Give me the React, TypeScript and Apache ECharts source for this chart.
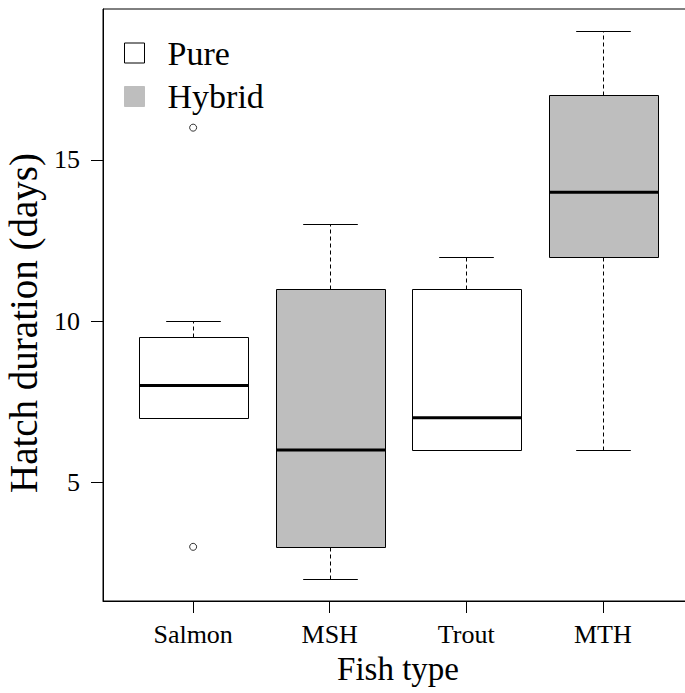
import React, { useEffect, useRef } from "react";
import * as echarts from "echarts";

// Fish types along the x axis, and which group each belongs to
const categories = ["Salmon", "MSH", "Trout", "MTH"];
const groups = ["Pure", "Hybrid", "Pure", "Hybrid"];

// Five-number summaries of hatch duration (days)
const lowerWhisker = [7, 2, 6, 6];
const q1 = [7, 3, 6, 12];
const median = [8, 6, 7, 14];
const q3 = [9.5, 11, 11, 17];
const upperWhisker = [10, 13, 12, 19];

// Points beyond the whiskers
const outlierCategory = ["Salmon", "Salmon"];
const outlierValues = [16, 3];

// Axis ticks
const yTicks = [5, 10, 15];

const FONT = "'Liberation Serif', 'Times New Roman', serif";
const GRAY = "#bebebe";

const groupStyle: Record<string, { fill: string; legendBorder: string }> = {
  Pure: { fill: "#ffffff", legendBorder: "#000000" },
  Hybrid: { fill: GRAY, legendBorder: GRAY },
};

function boxData(group: string) {
  const rows: number[][] = [];
  categories.forEach((_, i) => {
    if (groups[i] === group) {
      rows.push([i + 1, lowerWhisker[i], q1[i], median[i], q3[i], upperWhisker[i]]);
    }
  });
  return rows;
}

const crisp = (v: number) => Math.round(v) + 0.5;

function makeRenderItem(fill: string) {
  return (params: any, api: any) => {
    const x = api.value(0);
    const cx = crisp(api.coord([x, 0])[0]);
    const yLo = crisp(api.coord([x, api.value(1)])[1]);
    const yQ1 = crisp(api.coord([x, api.value(2)])[1]);
    const yMed = api.coord([x, api.value(3)])[1];
    const yQ3 = crisp(api.coord([x, api.value(4)])[1]);
    const yHi = crisp(api.coord([x, api.value(5)])[1]);
    const w = api.size([0.8, 0])[0];
    const left = Math.round(cx - w / 2) + 0.5;
    const right = Math.round(cx + w / 2) + 0.5;
    const cap = w / 4;
    const dashed = { stroke: "#000", lineWidth: 1, lineDash: [4, 3], fill: null };
    const solid = { stroke: "#000", lineWidth: 1, fill: null };
    return {
      type: "group",
      children: [
        { type: "line", shape: { x1: cx, y1: yQ3, x2: cx, y2: yHi }, style: dashed },
        { type: "line", shape: { x1: cx, y1: yQ1, x2: cx, y2: yLo }, style: dashed },
        { type: "line", shape: { x1: cx - cap, y1: yHi, x2: cx + cap, y2: yHi }, style: solid },
        { type: "line", shape: { x1: cx - cap, y1: yLo, x2: cx + cap, y2: yLo }, style: solid },
        {
          type: "rect",
          shape: { x: left, y: yQ3, width: right - left, height: yQ1 - yQ3 },
          style: { fill, stroke: "#000", lineWidth: 1 },
        },
        { type: "line", shape: { x1: left, y1: yMed, x2: right, y2: yMed }, style: { stroke: "#000", lineWidth: 3 } },
      ],
    };
  };
}

export default function App() {
  const ref = useRef<HTMLDivElement>(null);

  useEffect(() => {
    if (!ref.current) return;
    const chart = echarts.init(ref.current, null, { renderer: "svg" });

    const outlierData = outlierValues.map((v, i) => [categories.indexOf(outlierCategory[i]) + 1, v]);

    const boxSeries = ["Pure", "Hybrid"].map((g) => ({
      name: g,
      type: "custom",
      renderItem: makeRenderItem(groupStyle[g].fill),
      data: boxData(g),
      encode: { x: 0, y: [1, 2, 3, 4, 5] },
      itemStyle: { color: groupStyle[g].fill, borderColor: groupStyle[g].legendBorder, borderWidth: 1 },
      z: 2,
    }));

    chart.setOption({
      animation: false,
      backgroundColor: "#ffffff",
      textStyle: { fontFamily: FONT, color: "#000" },
      grid: {
        left: 103,
        top: 9,
        width: 590,
        height: 592,
        containLabel: false,
        outerBoundsMode: "none",
        show: true,
        borderColor: "#000",
        borderWidth: 1,
        backgroundColor: "transparent",
      },
      legend: {
        orient: "vertical",
        left: 124,
        top: 33,
        padding: 0,
        itemWidth: 20,
        itemHeight: 20,
        itemGap: 3.5,
        icon: "rect",
        selectedMode: false,
        data: ["Pure", "Hybrid"].map((g) => ({
          name: g,
          itemStyle: { color: groupStyle[g].fill, borderColor: groupStyle[g].legendBorder, borderWidth: 1 },
        })),
        textStyle: { fontFamily: FONT, fontSize: 34, color: "#000", lineHeight: 40, padding: [0, 0, 0, 18] },
      },
      xAxis: {
        type: "value",
        min: 0.34,
        max: 4.66,
        name: "Fish type",
        nameLocation: "middle",
        nameGap: 51,
        nameTextStyle: { fontFamily: FONT, fontSize: 33, color: "#000" },
        axisLine: { show: true, onZero: false, lineStyle: { color: "#000", width: 1 } },
        axisTick: { show: true, length: 12, customValues: [1, 2, 3, 4], lineStyle: { color: "#000" } },
        axisLabel: {
          customValues: [1, 2, 3, 4],
          formatter: (v: number) => categories[Math.round(v) - 1] ?? "",
          fontFamily: FONT,
          fontSize: 26,
          color: "#000",
          margin: 20,
        },
        splitLine: { show: false },
      },
      yAxis: {
        type: "value",
        min: 1.32,
        max: 19.68,
        name: "Hatch duration (days)",
        nameLocation: "middle",
        nameRotate: 90,
        nameGap: 57,
        nameTextStyle: { fontFamily: FONT, fontSize: 39, color: "#000", padding: [0, 36, 0, 0] },
        axisLine: { show: true, onZero: false, lineStyle: { color: "#000", width: 1 } },
        axisTick: { show: true, length: 12, customValues: yTicks, lineStyle: { color: "#000" } },
        axisLabel: {
          customValues: yTicks,
          fontFamily: FONT,
          fontSize: 26,
          color: "#000",
          margin: 23,
        },
        splitLine: { show: false },
      },
      series: [
        ...boxSeries,
        {
          name: "outliers",
          type: "scatter",
          data: outlierData,
          symbol: "circle",
          symbolSize: 7,
          itemStyle: { color: "#fff", borderColor: "#000", borderWidth: 1 },
          z: 3,
        },
      ],
    });

    return () => chart.dispose();
  }, []);

  return (
    <div style={{ position: "fixed", left: 0, top: 0, width: 685, height: 693, overflow: "hidden", background: "#fff" }}>
      <div ref={ref} style={{ width: 700, height: 693 }} />
    </div>
  );
}
